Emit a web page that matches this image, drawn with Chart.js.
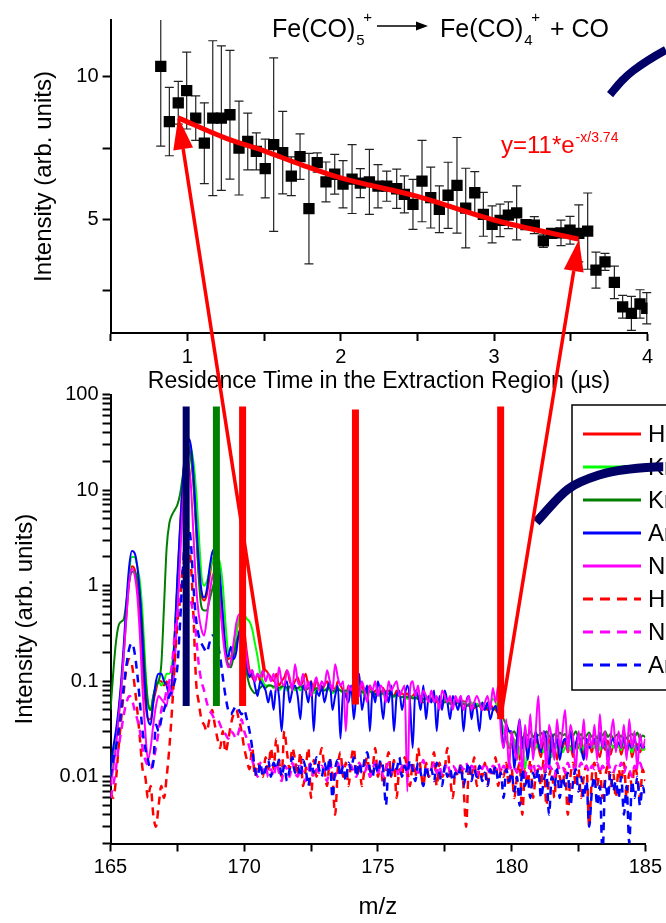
<!DOCTYPE html>
<html>
<head>
<meta charset="utf-8">
<script src="https://cdn.jsdelivr.net/npm/chart.js@4"></script>
<style>
  html, body { margin: 0; padding: 0; background: #fff; overflow: hidden; }
  #wrap { position: relative; width: 666px; height: 923px; }
  canvas { position: absolute; left: 0; top: 0; }
</style>
</head>
<body>
<div id="wrap">
  <canvas id="decay" width="666" height="923"></canvas>
  <canvas id="spectra" width="666" height="923"></canvas>
</div>
<script>
// ---- top panel: decay of Fe(CO)5+ ----
let tTime = [0.827, 0.883, 0.941, 0.996, 1.055, 1.111, 1.166, 1.222, 1.278, 1.337,
  1.394, 1.450, 1.508, 1.563, 1.622, 1.678, 1.735, 1.793, 1.847, 1.904,
  1.961, 2.015, 2.074, 2.128, 2.187, 2.243, 2.300, 2.365, 2.415, 2.471,
  2.530, 2.587, 2.643, 2.700, 2.758, 2.815, 2.874, 2.930, 2.987, 3.039,
  3.093, 3.147, 3.208, 3.262, 3.321, 3.375, 3.436, 3.495, 3.552, 3.610,
  3.664, 3.723, 3.784, 3.838, 3.895, 3.951, 3.995];
let tInt = [10.37, 8.43, 9.09, 9.52, 8.55, 7.67, 8.55, 8.55, 8.67, 7.50,
  7.73, 7.38, 6.78, 7.62, 7.34, 6.51, 7.20, 5.37, 6.99, 6.31,
  6.58, 6.23, 6.41, 6.27, 6.31, 6.16, 6.16, 6.07, 5.87, 5.52,
  6.34, 5.76, 5.35, 5.84, 6.19, 5.39, 5.93, 5.17, 4.82, 4.96,
  5.14, 5.22, 4.81, 4.79, 4.24, 4.50, 4.52, 4.61, 4.50, 4.58,
  3.21, 3.50, 2.78, 1.92, 1.69, 2.02, 1.87];
let tErr = [2.8, 1.2, 0.75, 1.35, 0.78, 1.42, 2.72, 2.54, 2.26, 1.65,
  1.0, 0.65, 1.03, 3.05, 1.45, 0.68, 0.8, 1.94, 0.34, 0.7,
  0.7, 0.83, 1.21, 0.51, 1.14, 0.76, 0.53, 0.69, 0.65, 0.88,
  1.43, 1.07, 0.82, 1.16, 1.68, 1.40, 0.74, 0.77, 0.65, 0.57,
  0.47, 0.95, 0.15, 0.3, 0.23, 0.15, 0.45, 0.49, 1.0, 1.34,
  0.63, 0.3, 0.57, 0.4, 0.6, 0.5, 0.55];
let fitX = [0.94, 1.25, 1.5, 1.75, 2.0, 2.5, 3.0, 3.55];
let fitY = [8.56, 7.85, 7.4, 6.9, 6.45, 5.8, 4.97, 4.3];
let topArcX = [3.756, 3.834, 3.907, 4.12, 4.34];
let topArcY = [9.38, 9.87, 10.22, 10.95, 11.5];

// ---- bottom panel: mass spectra ----
let mz = [];
for (let i = 0; i <= 200; i++) mz.push(+(165 + i * 0.1).toFixed(1));

let heSolid = [
  0.01, 0.015, 0.025, 0.045, 0.09, 0.2, 0.5, 1.1, 1.6, 1.5,
  1.0, 0.5, 0.15, 0.06, 0.04, 0.04, 0.06, 0.08, 0.1, 0.1,
  0.09, 0.1, 0.08, 0.1, 0.3, 1.0, 4, 12, 25, 30,
  25, 12, 4, 1.4, 0.8, 0.7, 0.8, 1.2, 1.8, 2.0,
  1.8, 1.0, 0.45, 0.22, 0.17, 0.18, 0.22, 0.32, 0.42, 0.45,
  0.35, 0.2, 0.13, 0.11, 0.1, 0.12, 0.1, 0.12, 0.13, 0.12,
  0.11, 0.1, 0.12, 0.09, 0.1, 0.11, 0.13, 0.1, 0.09, 0.1,
  0.11, 0.09, 0.1, 0.12, 0.09, 0.1, 0.08, 0.1, 0.09, 0.08,
  0.09, 0.1, 0.08, 0.09, 0.08, 0.1, 0.09, 0.08, 0.07, 0.09,
  0.08, 0.09, 0.07, 0.08, 0.09, 0.07, 0.08, 0.09, 0.07, 0.08,
  0.08, 0.07, 0.085, 0.07, 0.08, 0.075, 0.07, 0.08, 0.07, 0.075,
  0.07, 0.075, 0.065, 0.07, 0.075, 0.065, 0.07, 0.06, 0.07, 0.065,
  0.065, 0.07, 0.06, 0.065, 0.06, 0.068, 0.06, 0.065, 0.058, 0.062,
  0.06, 0.055, 0.062, 0.058, 0.055, 0.06, 0.052, 0.058, 0.055, 0.05,
  0.055, 0.05, 0.058, 0.052, 0.05, 0.045, 0.04, 0.03, 0.025, 0.02,
  0.022, 0.018, 0.025, 0.015, 0.02, 0.024, 0.017, 0.022, 0.019, 0.025,
  0.02, 0.016, 0.023, 0.019, 0.025, 0.018, 0.021, 0.015, 0.022, 0.02,
  0.024, 0.018, 0.021, 0.016, 0.023, 0.02, 0.025, 0.017, 0.02, 0.022,
  0.018, 0.023, 0.02, 0.016, 0.022, 0.019, 0.024, 0.017, 0.021, 0.02,
  0.022, 0.017, 0.021, 0.019, 0.024, 0.016, 0.02, 0.022, 0.018, 0.021,
  0.019];
let krLight = [
  0.01, 0.015, 0.025, 0.04, 0.08, 0.2, 0.6, 1.4, 2.0, 2.0,
  1.6, 1.1, 0.5, 0.15, 0.06, 0.05, 0.07, 0.09, 0.1, 0.09,
  0.1, 0.12, 0.12, 0.15, 0.3, 1.0, 3.5, 10, 22, 30,
  28, 20, 10, 3.5, 1.3, 1.0, 1.1, 1.4, 1.8, 2.0,
  2.0, 1.7, 1.0, 0.4, 0.2, 0.18, 0.2, 0.3, 0.45, 0.55,
  0.5, 0.45, 0.42, 0.35, 0.25, 0.18, 0.12, 0.1, 0.09, 0.09,
  0.09, 0.085, 0.09, 0.08, 0.085, 0.09, 0.08, 0.085, 0.09, 0.08,
  0.085, 0.08, 0.09, 0.08, 0.085, 0.08, 0.075, 0.08, 0.085, 0.08,
  0.08, 0.085, 0.08, 0.075, 0.08, 0.085, 0.08, 0.075, 0.08, 0.075,
  0.08, 0.075, 0.08, 0.075, 0.08, 0.07, 0.075, 0.08, 0.075, 0.07,
  0.075, 0.07, 0.075, 0.07, 0.075, 0.07, 0.068, 0.072, 0.07, 0.068,
  0.07, 0.065, 0.07, 0.068, 0.065, 0.07, 0.065, 0.062, 0.068, 0.065,
  0.065, 0.06, 0.065, 0.062, 0.06, 0.065, 0.06, 0.058, 0.062, 0.06,
  0.06, 0.058, 0.06, 0.055, 0.058, 0.06, 0.055, 0.058, 0.055, 0.06,
  0.055, 0.058, 0.06, 0.065, 0.06, 0.05, 0.04, 0.03, 0.025, 0.022,
  0.02, 0.025, 0.015, 0.02, 0.022, 0.012, 0.02, 0.025, 0.018, 0.02,
  0.022, 0.02, 0.018, 0.025, 0.02, 0.016, 0.022, 0.02, 0.024, 0.018,
  0.02, 0.022, 0.019, 0.024, 0.02, 0.022, 0.018, 0.021, 0.023, 0.02,
  0.022, 0.02, 0.024, 0.019, 0.022, 0.021, 0.018, 0.023, 0.02, 0.022,
  0.021, 0.019, 0.023, 0.02, 0.022, 0.018, 0.021, 0.02, 0.022, 0.019,
  0.02];
let krDark = [
  0.05, 0.12, 0.25, 0.38, 0.42, 0.45, 0.7, 1.1, 1.4, 1.4,
  1.2, 0.8, 0.35, 0.12, 0.06, 0.05, 0.07, 0.09, 0.1, 0.15,
  0.6, 2.5, 4.5, 5.5, 6.2, 7, 9, 14, 22, 27,
  22, 12, 4, 1.2, 0.6, 0.55, 0.55, 0.7, 0.9, 1.1,
  1.0, 0.7, 0.35, 0.2, 0.15, 0.14, 0.18, 0.25, 0.3, 0.28,
  0.2, 0.12, 0.09, 0.08, 0.075, 0.08, 0.085, 0.09, 0.085, 0.09,
  0.09, 0.088, 0.09, 0.085, 0.088, 0.09, 0.085, 0.088, 0.09, 0.085,
  0.085, 0.088, 0.085, 0.08, 0.085, 0.082, 0.08, 0.085, 0.082, 0.08,
  0.08, 0.082, 0.085, 0.08, 0.078, 0.082, 0.08, 0.078, 0.08, 0.078,
  0.078, 0.08, 0.077, 0.075, 0.078, 0.075, 0.076, 0.078, 0.075, 0.073,
  0.075, 0.073, 0.075, 0.072, 0.074, 0.072, 0.07, 0.072, 0.07, 0.068,
  0.07, 0.068, 0.07, 0.066, 0.068, 0.065, 0.067, 0.065, 0.066, 0.063,
  0.065, 0.062, 0.064, 0.06, 0.062, 0.06, 0.062, 0.058, 0.06, 0.058,
  0.06, 0.057, 0.058, 0.055, 0.057, 0.055, 0.056, 0.054, 0.056, 0.053,
  0.055, 0.052, 0.054, 0.05, 0.052, 0.048, 0.045, 0.04, 0.035, 0.03,
  0.028, 0.03, 0.026, 0.029, 0.025, 0.028, 0.027, 0.03, 0.026, 0.028,
  0.027, 0.029, 0.026, 0.03, 0.027, 0.025, 0.028, 0.026, 0.029, 0.027,
  0.028, 0.025, 0.029, 0.027, 0.03, 0.026, 0.028, 0.025, 0.027, 0.029,
  0.026, 0.028, 0.025, 0.029, 0.027, 0.03, 0.026, 0.028, 0.025, 0.027,
  0.028, 0.026, 0.029, 0.025, 0.027, 0.028, 0.026, 0.029, 0.025, 0.027,
  0.026];
let arSolid = [
  0.012, 0.02, 0.03, 0.05, 0.1, 0.25, 0.7, 1.6, 2.3, 2.2,
  1.6, 0.8, 0.25, 0.08, 0.04, 0.035, 0.06, 0.1, 0.12, 0.12,
  0.1, 0.09, 0.07, 0.1, 0.3, 1.2, 4, 12, 28, 35,
  30, 15, 5, 1.8, 0.9, 0.75, 0.9, 1.5, 2.2, 2.4,
  2.1, 1.2, 0.5, 0.22, 0.18, 0.23, 0.17, 0.2, 0.32, 0.36,
  0.25, 0.15, 0.11, 0.13, 0.09, 0.07, 0.1, 0.09, 0.08, 0.06,
  0.08, 0.05, 0.09, 0.07, 0.03, 0.08, 0.1, 0.06, 0.08, 0.09,
  0.07, 0.04, 0.09, 0.08, 0.06, 0.1, 0.03, 0.08, 0.07, 0.09,
  0.06, 0.08, 0.1, 0.05, 0.07, 0.09, 0.025, 0.08, 0.07, 0.06,
  0.09, 0.04, 0.08, 0.12, 0.05, 0.07, 0.09, 0.03, 0.08, 0.06,
  0.1, 0.07, 0.04, 0.08, 0.06, 0.09, 0.03, 0.07, 0.08, 0.05,
  0.07, 0.09, 0.06, 0.02, 0.08, 0.07, 0.05, 0.09, 0.04, 0.07,
  0.06, 0.08, 0.03, 0.07, 0.05, 0.08, 0.06, 0.04, 0.07, 0.06,
  0.05, 0.07, 0.03, 0.06, 0.07, 0.04, 0.06, 0.05, 0.03, 0.06,
  0.05, 0.06, 0.04, 0.05, 0.055, 0.045, 0.04, 0.02, 0.035, 0.03,
  0.03, 0.012, 0.025, 0.04, 0.02, 0.03, 0.015, 0.025, 0.02, 0.03,
  0.022, 0.018, 0.03, 0.025, 0.012, 0.028, 0.02, 0.025, 0.015, 0.022,
  0.025, 0.02, 0.03, 0.018, 0.022, 0.028, 0.02, 0.015, 0.025, 0.02,
  0.022, 0.025, 0.018, 0.028, 0.02, 0.024, 0.016, 0.022, 0.025, 0.02,
  0.023, 0.02, 0.026, 0.018, 0.022, 0.02, 0.025, 0.019, 0.022, 0.02,
  0.021];
let neSolid = [
  0.008, 0.012, 0.02, 0.04, 0.08, 0.2, 0.5, 1.1, 1.5, 1.3,
  0.8, 0.3, 0.08, 0.03, 0.015, 0.02, 0.035, 0.055, 0.07, 0.065,
  0.06, 0.055, 0.09, 0.07, 0.15, 0.5, 1.8, 7, 17, 20,
  12, 3.5, 1.0, 0.5, 0.35, 0.3, 0.45, 0.8, 1.2, 1.4,
  1.1, 0.6, 0.3, 0.18, 0.14, 0.16, 0.25, 0.4, 0.5, 0.45,
  0.3, 0.17, 0.12, 0.13, 0.1, 0.12, 0.11, 0.13, 0.1, 0.12,
  0.1, 0.12, 0.08, 0.14, 0.1, 0.09, 0.13, 0.11, 0.08, 0.15,
  0.1, 0.09, 0.12, 0.08, 0.1, 0.07, 0.09, 0.11, 0.08, 0.1,
  0.09, 0.13, 0.1, 0.08, 0.15, 0.11, 0.09, 0.1, 0.03, 0.09,
  0.08, 0.1, 0.09, 0.07, 0.1, 0.08, 0.06, 0.09, 0.08, 0.1,
  0.07, 0.09, 0.08, 0.06, 0.1, 0.08, 0.09, 0.1, 0.07, 0.08,
  0.09, 0.007, 0.08, 0.1, 0.07, 0.09, 0.06, 0.08, 0.07, 0.06,
  0.08, 0.06, 0.07, 0.05, 0.08, 0.07, 0.06, 0.07, 0.05, 0.07,
  0.06, 0.07, 0.05, 0.06, 0.07, 0.05, 0.06, 0.07, 0.06, 0.05,
  0.06, 0.07, 0.05, 0.085, 0.06, 0.09, 0.03, 0.02, 0.04, 0.012,
  0.03, 0.02, 0.015, 0.04, 0.01, 0.035, 0.02, 0.045, 0.015, 0.03,
  0.07, 0.02, 0.03, 0.012, 0.035, 0.025, 0.015, 0.04, 0.02, 0.03,
  0.05, 0.018, 0.035, 0.025, 0.012, 0.03, 0.02, 0.04, 0.015, 0.028,
  0.02, 0.035, 0.015, 0.045, 0.02, 0.03, 0.012, 0.025, 0.04, 0.018,
  0.03, 0.02, 0.035, 0.015, 0.04, 0.02, 0.03, 0.012, 0.028, 0.02,
  0.025];
let heDash = [
  0.007, 0.006, 0.009, 0.02, 0.04, 0.08, 0.14, 0.17, 0.15, 0.09,
  0.05, 0.025, 0.012, 0.01, 0.006, 0.008, 0.004, 0.003, 0.005, 0.008,
  0.006, 0.01, 0.02, 0.05, 0.15, 0.4, 0.7, 1.5, 2.0, 2.6,
  1.8, 0.5, 0.1, 0.06, 0.04, 0.035, 0.03, 0.04, 0.05, 0.035,
  0.025, 0.02, 0.03, 0.018, 0.024, 0.035, 0.045, 0.05, 0.04, 0.03,
  0.02, 0.015, 0.012, 0.02, 0.01, 0.014, 0.012, 0.01, 0.016, 0.012,
  0.02, 0.012, 0.025, 0.015, 0.01, 0.03, 0.018, 0.012, 0.02, 0.015,
  0.01, 0.018, 0.008, 0.012, 0.02, 0.006, 0.015, 0.01, 0.014, 0.02,
  0.012, 0.008, 0.015, 0.01, 0.004, 0.012, 0.018, 0.01, 0.014, 0.008,
  0.015, 0.02, 0.01, 0.014, 0.008, 0.012, 0.016, 0.01, 0.012, 0.02,
  0.01, 0.014, 0.008, 0.012, 0.018, 0.01, 0.015, 0.006, 0.012, 0.01,
  0.016, 0.012, 0.008, 0.014, 0.01, 0.02, 0.012, 0.008, 0.014, 0.01,
  0.012, 0.018, 0.008, 0.014, 0.01, 0.012, 0.02, 0.01, 0.006, 0.012,
  0.01, 0.014, 0.008, 0.003, 0.012, 0.01, 0.016, 0.008, 0.012, 0.01,
  0.014, 0.008, 0.012, 0.01, 0.016, 0.008, 0.012, 0.01, 0.014, 0.008,
  0.012, 0.006, 0.01, 0.014, 0.004, 0.012, 0.008, 0.015, 0.006, 0.01,
  0.012, 0.008, 0.015, 0.005, 0.01, 0.012, 0.006, 0.014, 0.01, 0.008,
  0.012, 0.004, 0.01, 0.014, 0.008, 0.012, 0.006, 0.01, 0.013, 0.003,
  0.01, 0.014, 0.008, 0.012, 0.006, 0.01, 0.013, 0.008, 0.011, 0.006,
  0.012, 0.009, 0.014, 0.006, 0.011, 0.008, 0.013, 0.01, 0.006, 0.012,
  0.009];
let neDash = [
  0.006, 0.008, 0.012, 0.02, 0.03, 0.045, 0.06, 0.07, 0.065, 0.05,
  0.04, 0.03, 0.02, 0.015, 0.013, 0.012, 0.015, 0.02, 0.03, 0.05,
  0.06, 0.08, 0.1, 0.15, 0.3, 0.5, 0.7, 0.85, 0.9, 0.8,
  0.7, 0.5, 0.3, 0.15, 0.1, 0.08, 0.06, 0.05, 0.045, 0.04,
  0.04, 0.035, 0.03, 0.028, 0.025, 0.03, 0.028, 0.025, 0.03, 0.04,
  0.03, 0.025, 0.02, 0.015, 0.012, 0.01, 0.014, 0.011, 0.013, 0.01,
  0.012, 0.01, 0.014, 0.011, 0.009, 0.013, 0.012, 0.01, 0.014, 0.011,
  0.01, 0.013, 0.011, 0.009, 0.012, 0.014, 0.01, 0.012, 0.011, 0.013,
  0.011, 0.009, 0.013, 0.012, 0.01, 0.014, 0.011, 0.013, 0.01, 0.012,
  0.013, 0.011, 0.01, 0.014, 0.012, 0.011, 0.013, 0.01, 0.012, 0.014,
  0.011, 0.013, 0.01, 0.012, 0.014, 0.011, 0.013, 0.012, 0.01, 0.013,
  0.012, 0.011, 0.014, 0.012, 0.013, 0.011, 0.012, 0.015, 0.011, 0.013,
  0.012, 0.014, 0.011, 0.013, 0.01, 0.012, 0.014, 0.011, 0.013, 0.012,
  0.011, 0.013, 0.012, 0.014, 0.011, 0.013, 0.012, 0.01, 0.013, 0.012,
  0.014, 0.012, 0.011, 0.013, 0.012, 0.014, 0.011, 0.013, 0.012, 0.014,
  0.012, 0.013, 0.011, 0.014, 0.012, 0.01, 0.013, 0.012, 0.014, 0.011,
  0.013, 0.012, 0.014, 0.011, 0.013, 0.012, 0.01, 0.014, 0.012, 0.013,
  0.011, 0.014, 0.012, 0.013, 0.011, 0.012, 0.014, 0.012, 0.013, 0.011,
  0.013, 0.012, 0.014, 0.011, 0.013, 0.012, 0.014, 0.012, 0.011, 0.013,
  0.012, 0.014, 0.011, 0.013, 0.012, 0.01, 0.013, 0.012, 0.014, 0.012,
  0.013];
let arDash = [
  0.01, 0.015, 0.02, 0.03, 0.05, 0.09, 0.15, 0.22, 0.25, 0.2,
  0.12, 0.06, 0.03, 0.02, 0.015, 0.012, 0.014, 0.035, 0.03, 0.04,
  0.05, 0.06, 0.07, 0.08, 0.1, 0.14, 0.4, 1.4, 3.5, 4.2,
  3, 1.0, 0.45, 0.3, 0.25, 0.22, 0.2, 0.25, 0.3, 0.3,
  0.25, 0.18, 0.11, 0.07, 0.05, 0.045, 0.05, 0.055, 0.05, 0.045,
  0.05, 0.04, 0.03, 0.02, 0.012, 0.01, 0.014, 0.01, 0.012, 0.015,
  0.01, 0.014, 0.012, 0.015, 0.01, 0.013, 0.009, 0.012, 0.016, 0.011,
  0.013, 0.01, 0.015, 0.012, 0.008, 0.014, 0.011, 0.016, 0.012, 0.01,
  0.014, 0.011, 0.016, 0.006, 0.012, 0.015, 0.01, 0.013, 0.009, 0.014,
  0.012, 0.016, 0.01, 0.014, 0.011, 0.015, 0.018, 0.012, 0.01, 0.014,
  0.011, 0.015, 0.012, 0.005, 0.013, 0.01, 0.014, 0.012, 0.016, 0.01,
  0.013, 0.011, 0.015, 0.012, 0.009, 0.014, 0.011, 0.008, 0.013, 0.01,
  0.012, 0.009, 0.014, 0.011, 0.008, 0.013, 0.01, 0.012, 0.009, 0.011,
  0.01, 0.013, 0.008, 0.011, 0.014, 0.009, 0.012, 0.01, 0.013, 0.009,
  0.011, 0.008, 0.012, 0.01, 0.013, 0.009, 0.011, 0.006, 0.012, 0.009,
  0.011, 0.007, 0.01, 0.005, 0.012, 0.008, 0.01, 0.006, 0.011, 0.009,
  0.012, 0.006, 0.009, 0.011, 0.004, 0.01, 0.008, 0.012, 0.006, 0.01,
  0.008, 0.011, 0.005, 0.009, 0.012, 0.007, 0.01, 0.006, 0.009, 0.003,
  0.007, 0.01, 0.005, 0.008, 0.0015, 0.009, 0.006, 0.011, 0.007, 0.009,
  0.006, 0.01, 0.004, 0.008, 0.002, 0.009, 0.006, 0.01, 0.005, 0.008,
  0.006];

let seriesData = [heSolid, krLight, krDark, arSolid, neSolid, heDash, neDash, arDash];
let seriesLabels = ['He', 'Kr', 'Kr', 'Ar', 'Ne', 'He', 'Ne', 'Ar'];
let seriesColors = ['#ff0000', '#00ff00', '#008000', '#0000ff', '#ff00ff', '#ff0000', '#ff00ff', '#0000ff'];
let seriesDashed = [false, false, false, false, false, true, true, true];

// thick vertical markers
let markMz = [167.83, 168.96, 169.94, 174.16, 179.59];
let markLow = [0.055, 0.055, 0.055, 0.057, 0.04];
let markHigh = [75, 75, 75, 70, 75];
let markColors = ['#000066', '#008000', '#ff0000', '#ff0000', '#ff0000'];

let botArcX = [180.92, 182.1, 183.34, 184.33, 185.67, 186.9];
let botArcY = [4.61, 10.2, 14.6, 16.5, 17.6, 17.6];

let logTickValues = [0.01, 0.1, 1, 10, 100];
let logTickLabels = ['0.01', '0.1', '1', '10', '100'];

// red arrows: from spectrum (m/z, intensity) to fit ends (time, intensity)
let arrowFrom = [[170.75, 0.13], [179.59, 0.042]];
let arrowTo = [[0.941, 8.58], [3.553, 4.29]];

const FONT = '"Liberation Sans", Arial, Helvetica, sans-serif';
Chart.defaults.font.family = FONT;
Chart.defaults.color = '#000';

let axisLook = {
    border: {display: true, color: '#000', width: 2},
    grid: {drawOnChartArea: false, drawTicks: true, tickLength: 8, tickColor: '#000', tickWidth: 2}
};

let errorBars = {
    id: 'errorBars',
    beforeDatasetsDraw(chart) {
        let {ctx, chartArea: ca, scales: {x, y}} = chart;
        ctx.save();
        ctx.beginPath();
        ctx.rect(ca.left, ca.top, ca.right - ca.left + 10, ca.bottom - ca.top);
        ctx.clip();
        ctx.strokeStyle = '#222';
        ctx.lineWidth = 1.2;
        tTime.forEach((t, i) => {
            let px = x.getPixelForValue(t);
            let top = y.getPixelForValue(tInt[i] + tErr[i]);
            let bot = y.getPixelForValue(tInt[i] - tErr[i]);
            ctx.beginPath();
            ctx.moveTo(px, top); ctx.lineTo(px, bot);
            ctx.moveTo(px - 4.5, top); ctx.lineTo(px + 4.5, top);
            ctx.moveTo(px - 4.5, bot); ctx.lineTo(px + 4.5, bot);
            ctx.stroke();
        });
        ctx.restore();
    }
};

let labels = {
    id: 'labels',
    afterDraw(chart) {
        let ctx = chart.ctx;
        ctx.save();
        ctx.fillStyle = '#000';
        ctx.textBaseline = 'alphabetic';
        // reaction
        let x = 272;
        ctx.font = '25px ' + FONT;
        ctx.fillText('Fe(CO)', x, 37);
        x += ctx.measureText('Fe(CO)').width;
        ctx.font = '15px ' + FONT;
        ctx.fillText('5', x + 1, 45);
        ctx.fillText('+', x + 8, 22);
        ctx.strokeStyle = '#000';
        ctx.lineWidth = 1.5;
        ctx.beginPath(); ctx.moveTo(377, 26); ctx.lineTo(418, 26); ctx.stroke();
        ctx.beginPath(); ctx.moveTo(428, 26); ctx.lineTo(416, 21.5); ctx.lineTo(416, 30.5); ctx.closePath(); ctx.fill();
        x = 440;
        ctx.font = '25px ' + FONT;
        ctx.fillText('Fe(CO)', x, 37);
        x += ctx.measureText('Fe(CO)').width;
        ctx.font = '15px ' + FONT;
        ctx.fillText('4', x + 1, 45);
        ctx.fillText('+', x + 8, 22);
        ctx.font = '25px ' + FONT;
        ctx.fillText('+ CO', 550, 37);
        // fit equation
        ctx.fillStyle = '#ff0000';
        ctx.font = '24px ' + FONT;
        ctx.fillText('y=11*e', 501, 153);
        let w = ctx.measureText('y=11*e').width;
        ctx.font = '14px ' + FONT;
        ctx.fillText('-x/3.74', 501 + w + 1, 142);
        ctx.restore();
    }
};

let topChart = new Chart(document.getElementById('decay'), {
    type: 'scatter',
    data: {
        datasets: [
            {
                type: 'line', data: fitX.map((x, i) => ({x, y: fitY[i]})),
                borderColor: '#ff0000', borderWidth: 5, pointRadius: 0,
                cubicInterpolationMode: 'monotone', order: 0
            },
            {
                type: 'line', data: topArcX.map((x, i) => ({x, y: topArcY[i]})),
                borderColor: '#000066', borderWidth: 8, pointRadius: 0,
                cubicInterpolationMode: 'monotone', clip: false, order: 0
            },
            {
                data: tTime.map((x, i) => ({x, y: tInt[i]})),
                pointStyle: 'rect', pointRadius: 8, backgroundColor: '#000',
                borderColor: '#000', borderWidth: 0, order: 1
            }
        ]
    },
    options: {
        responsive: false, animation: false, events: [],
        layout: {padding: {left: 0, top: 20, right: 18.5, bottom: 528}},
        plugins: {legend: {display: false}, tooltip: {enabled: false}},
        scales: {
            x: {
                type: 'linear', min: 0.5, max: 4, ...axisLook,
                afterFit: s => { s.height = 62; },
                ticks: {stepSize: 0.5, autoSkip: false, maxRotation: 0, padding: 4, font: {size: 20},
                    callback: v => Number.isInteger(v) ? v : ''},
                title: {display: true, text: 'Residence Time in the Extraction Region (\u00b5s)', font: {size: 23}, padding: 0}
            },
            y: {
                type: 'linear', min: 1, max: 12, ...axisLook,
                afterFit: s => { s.width = 110.6; },
                ticks: {stepSize: 2.5, includeBounds: false, autoSkip: false, padding: 4, font: {size: 20},
                    callback: v => v % 5 === 0 ? v : ''},
                title: {display: true, text: 'Intensity (arb. units)', font: {size: 24}, padding: {top: 30, bottom: 0}}
            }
        }
    },
    plugins: [errorBars, labels]
});

let boxLegend = {
    id: 'boxLegend',
    beforeDatasetsDraw(chart) {
        let ctx = chart.ctx;
        ctx.save();
        ctx.fillStyle = '#fff';
        ctx.fillRect(572, 405, 120, 285);
        ctx.strokeStyle = '#000';
        ctx.lineWidth = 1.5;
        ctx.strokeRect(572, 405, 120, 285);
        ctx.font = '24px ' + FONT;
        ctx.textBaseline = 'middle';
        seriesLabels.forEach((lab, i) => {
            let y = 434 + i * 33;
            ctx.beginPath();
            ctx.setLineDash(seriesDashed[i] ? [10, 7] : []);
            ctx.lineWidth = 3;
            ctx.strokeStyle = seriesColors[i];
            ctx.moveTo(583, y); ctx.lineTo(641, y);
            ctx.stroke();
            ctx.fillStyle = '#000';
            ctx.fillText(lab, 648, y + 1);
        });
        ctx.restore();
    }
};

function drawArrow(ctx, x0, y0, x1, y1) {
    let a = Math.atan2(y1 - y0, x1 - x0);
    let L = 32, W = 10;
    let bx = x1 - L * Math.cos(a), by = y1 - L * Math.sin(a);
    ctx.beginPath();
    ctx.moveTo(x0, y0); ctx.lineTo(bx, by);
    ctx.stroke();
    ctx.beginPath();
    ctx.moveTo(x1, y1);
    ctx.lineTo(bx + W * Math.sin(a), by - W * Math.cos(a));
    ctx.lineTo(bx - W * Math.sin(a), by + W * Math.cos(a));
    ctx.closePath();
    ctx.fill();
}

let arrows = {
    id: 'arrows',
    afterDraw(chart) {
        let ctx = chart.ctx;
        let sx = chart.scales.x, sy = chart.scales.y;
        let tx = topChart.scales.x, ty = topChart.scales.y;
        ctx.save();
        ctx.strokeStyle = '#ff0000';
        ctx.fillStyle = '#ff0000';
        ctx.lineWidth = 3.5;
        arrowFrom.forEach((p, i) => {
            drawArrow(ctx, sx.getPixelForValue(p[0]), sy.getPixelForValue(p[1]),
                tx.getPixelForValue(arrowTo[i][0]), ty.getPixelForValue(arrowTo[i][1]));
        });
        ctx.restore();
    }
};

let specSets = seriesData.map((arr, i) => ({
    label: seriesLabels[i],
    data: mz.map((x, k) => ({x, y: arr[k]})),
    borderColor: seriesColors[i], borderWidth: seriesDashed[i] ? 2.5 : 2,
    borderDash: seriesDashed[i] ? [8, 6] : [],
    pointRadius: 0, cubicInterpolationMode: 'monotone',
    order: 20 - i
}));
let markSets = markMz.map((x, i) => ({
    data: [{x, y: markLow[i]}, {x, y: markHigh[i]}],
    borderColor: markColors[i], borderWidth: 7, borderCapStyle: 'butt',
    pointRadius: 0, order: 5
}));
let arcSet = {
    data: botArcX.map((x, i) => ({x, y: botArcY[i]})),
    borderColor: '#000066', borderWidth: 9, pointRadius: 0,
    cubicInterpolationMode: 'monotone', clip: false, order: 0
};

let bottomChart = new Chart(document.getElementById('spectra'), {
    type: 'line',
    data: {datasets: [...specSets, ...markSets, arcSet]},
    options: {
        responsive: false, animation: false, events: [],
        layout: {padding: {left: 0, top: 394.6, right: 18, bottom: 1.5}},
        plugins: {legend: {display: false}, tooltip: {enabled: false}},
        scales: {
            x: {
                type: 'linear', min: 165, max: 185, ...axisLook,
                afterFit: s => { s.height = 78; },
                ticks: {stepSize: 2.5, autoSkip: false, maxRotation: 0, padding: 4, font: {size: 20},
                    callback: v => v % 5 === 0 ? v : ''},
                title: {display: true, text: 'm/z', font: {size: 24}, padding: 0}
            },
            y: {
                type: 'logarithmic', min: 0.002, max: 100, ...axisLook,
                afterFit: s => { s.width = 110.5; },
                afterBuildTicks: s => {
                    let t = [];
                    for (let e = -3; e <= 2; e++) {
                        for (let m = 1; m <= 9; m++) {
                            let v = +(m * Math.pow(10, e)).toPrecision(1);
                            if (v >= 0.002 && v <= 100) t.push({value: v});
                        }
                    }
                    s.ticks = t;
                },
                ticks: {autoSkip: false, padding: 4, font: {size: 20},
                    callback: v => {
                        let k = logTickValues.indexOf(v);
                        return k >= 0 ? logTickLabels[k] : '';
                    }},
                title: {display: true, text: 'Intensity (arb. units)', font: {size: 24}, padding: {top: 11, bottom: 0}}
            }
        }
    },
    plugins: [boxLegend, arrows]
});
</script>
</body>
</html>
